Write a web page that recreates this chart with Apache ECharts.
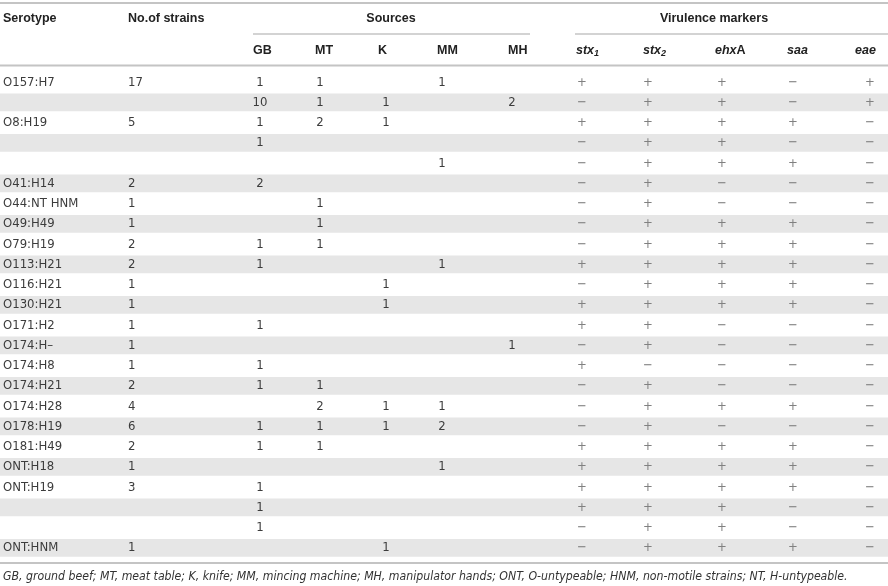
<!DOCTYPE html>
<html>
<head>
<meta charset="UTF-8">
<title>Serotypes</title>
<script src="https://cdn.jsdelivr.net/npm/echarts@6/dist/echarts.min.js"></script>
<style>
  html, body { margin: 0; padding: 0; background: #fff; }
  #main { width: 888px; height: 586px; }
</style>
</head>
<body>
<div id="main"></div>
<script>
// table data, one array per column
var serotype = ['O157:H7', '', 'O8:H19', '', '', 'O41:H14', 'O44:NT HNM', 'O49:H49', 'O79:H19', 'O113:H21',
  'O116:H21', 'O130:H21', 'O171:H2', 'O174:H\u2013', 'O174:H8', 'O174:H21', 'O174:H28', 'O178:H19', 'O181:H49',
  'ONT:H18', 'ONT:H19', '', '', 'ONT:HNM'];
var strains = ['17', '', '5', '', '', '2', '1', '1', '2', '2', '1', '1', '1', '1', '1', '2', '4', '6', '2', '1', '3', '', '', '1'];
var GB = ['1', '10', '1', '1', '', '2', '', '', '1', '1', '', '', '1', '', '1', '1', '', '1', '1', '', '1', '1', '1', ''];
var MT = ['1', '1', '2', '', '', '', '1', '1', '1', '', '', '', '', '', '', '1', '2', '1', '1', '', '', '', '', ''];
var K = ['', '1', '1', '', '', '', '', '', '', '', '1', '1', '', '', '', '', '1', '1', '', '', '', '', '', '1'];
var MM = ['1', '', '', '', '1', '', '', '', '', '1', '', '', '', '', '', '', '1', '2', '', '1', '', '', '', ''];
var MH = ['', '2', '', '', '', '', '', '', '', '', '', '', '', '1', '', '', '', '', '', '', '', '', '', ''];
var stx1 = ['+', '-', '+', '-', '-', '-', '-', '-', '-', '+', '-', '+', '+', '-', '+', '-', '-', '-', '+', '+', '+', '+', '-', '-'];
var stx2 = ['+', '+', '+', '+', '+', '+', '+', '+', '+', '+', '+', '+', '+', '+', '-', '+', '+', '+', '+', '+', '+', '+', '+', '+'];
var ehxA = ['+', '+', '+', '+', '+', '-', '-', '+', '+', '+', '+', '+', '-', '-', '-', '-', '+', '-', '+', '+', '+', '+', '+', '+'];
var saa = ['-', '-', '+', '-', '+', '-', '-', '+', '+', '+', '+', '+', '-', '-', '-', '-', '+', '-', '+', '+', '+', '-', '-', '+'];
var eae = ['+', '+', '-', '-', '-', '-', '-', '-', '-', '-', '-', '-', '-', '-', '-', '-', '-', '-', '-', '-', '-', '-', '-', '-'];
var footnote = 'GB, ground beef; MT, meat table; K, knife; MM, mincing machine; MH, manipulator hands; ONT, O-untypeable; HNM, non-motile strains; NT, H-untypeable.';

// layout: x anchor of each column (left edge for text, centre for numbers and signs)
var W = 888;
var columns = [
  { vals: serotype, x: 3, align: 'left' },
  { vals: strains, x: 128, align: 'left' },
  { vals: GB, x: 260, align: 'center' },
  { vals: MT, x: 320, align: 'center' },
  { vals: K, x: 386, align: 'center' },
  { vals: MM, x: 442, align: 'center' },
  { vals: MH, x: 512, align: 'center' },
  { vals: stx1, x: 582, align: 'center', sign: true },
  { vals: stx2, x: 648, align: 'center', sign: true },
  { vals: ehxA, x: 722, align: 'center', sign: true },
  { vals: saa, x: 793, align: 'center', sign: true },
  { vals: eae, x: 870, align: 'center', sign: true }
];

var bodyFont = "'Liberation Sans Narrow', 'DejaVu Sans Condensed', sans-serif";
var headFont = "'Liberation Sans', Arial, sans-serif";

var rows = serotype.map(function(d, i) { return i; });
var cells = [];
columns.forEach(function(c) {
  c.vals.forEach(function(v, i) {
    if (v === '') return;
    cells.push({ value: [c.x, i], text: c.sign ? (v === '+' ? '+' : '\u2212') : v, align: c.align, sign: !!c.sign });
  });
});
var stripes = rows.filter(function(i) { return i % 2 === 1; }).map(function(i) { return [0, i]; });

var chart = echarts.init(document.getElementById('main'));

function hline(y, x1, x2, w, color) {
  return { type: 'line', shape: { x1: x1, y1: y, x2: x2, y2: y }, style: { stroke: color, lineWidth: w }, silent: true };
}
function htext(x, y, text, align, rich) {
  return {
    type: 'text', x: x, y: y,
    style: { text: text, align: align || 'left', verticalAlign: 'middle', font: 'bold 12.5px ' + headFont, fill: '#222', rich: rich }
  };
}
var geneRich = {
  g: { fontFamily: headFont, fontWeight: 'bold', fontStyle: 'italic', fontSize: 12.5, fill: '#222' },
  s: { fontFamily: headFont, fontWeight: 'bold', fontStyle: 'italic', fontSize: 9, fill: '#222', padding: [5, 0, 0, 0] },
  n: { fontFamily: headFont, fontWeight: 'bold', fontSize: 12.5, fill: '#222' }
};

chart.setOption({
  animation: false,
  grid: { left: 0, right: 0, top: 72, height: 486 },
  xAxis: { type: 'value', min: 0, max: W, show: false },
  yAxis: { type: 'category', data: rows, inverse: true, show: false },
  series: [{
    type: 'custom',
    silent: true,
    data: stripes,
    renderItem: function(params, api) {
      var p = api.coord([0, api.value(1)]);
      var h = api.size([0, 1])[1] * 0.87;
      return { type: 'rect', shape: { x: 0, y: p[1] - h / 2, width: W, height: h }, style: { fill: '#e6e6e6' } };
    }
  }, {
    type: 'custom',
    silent: true,
    data: cells.map(function(c) { return c.value; }),
    renderItem: function(params, api) {
      var c = cells[params.dataIndex];
      var p = api.coord([api.value(0), api.value(1)]);
      return {
        type: 'text', x: p[0], y: p[1],
        style: {
          text: c.text, align: c.align, verticalAlign: 'middle',
          font: (c.sign ? '13px ' : '13px ') + bodyFont,
          fill: c.sign ? '#808080' : '#3c3c3c'
        }
      };
    }
  }],
  graphic: [
    hline(3, 0, W, 2, '#c4c4c4'),
    hline(34, 253, 530, 1.5, '#c4c4c4'),
    hline(34, 575, W, 1.5, '#c4c4c4'),
    hline(65.5, 0, W, 2, '#c4c4c4'),
    hline(563, 0, W, 2, '#c4c4c4'),
    htext(3, 19, 'Serotype'),
    htext(128, 19, 'No.of strains'),
    htext(391, 19, 'Sources', 'center'),
    htext(714, 19, 'Virulence markers', 'center'),
    htext(253, 51, 'GB'),
    htext(315, 51, 'MT'),
    htext(378, 51, 'K'),
    htext(437, 51, 'MM'),
    htext(508, 51, 'MH'),
    htext(576, 51, '{g|stx}{s|1}', 'left', geneRich),
    htext(643, 51, '{g|stx}{s|2}', 'left', geneRich),
    htext(715, 51, '{g|ehx}{n|A}', 'left', geneRich),
    htext(787, 51, '{g|saa}', 'left', geneRich),
    htext(855, 51, '{g|eae}', 'left', geneRich),
    {
      type: 'text', x: 3, y: 577,
      style: { text: footnote, verticalAlign: 'middle', font: 'italic 12.2px ' + bodyFont, fill: '#333' }
    }
  ]
});
</script>
</body>
</html>
